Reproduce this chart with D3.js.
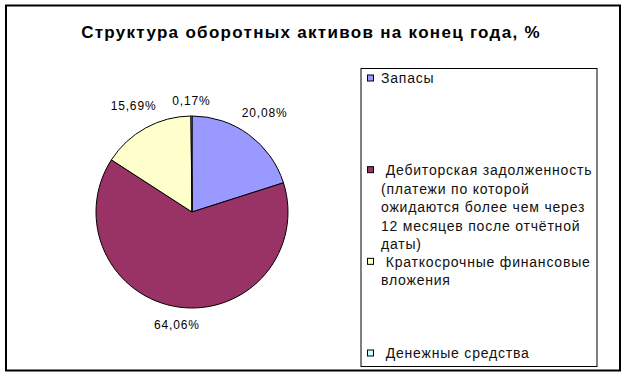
<!DOCTYPE html>
<html>
<head>
<meta charset="utf-8">
<script src="https://cdn.jsdelivr.net/npm/d3@7"></script>
<style>
  body { margin: 0; background: #fff; }
  text { font-family: "Liberation Sans", Arial, sans-serif; }
</style>
</head>
<body>
<div id="container"></div>
<script>
var width = 626,
    height = 377;

// данные диаграммы
var categories = [
    "Запасы",
    "Дебиторская задолженность (платежи по которой ожидаются более чем через 12 месяцев после отчётной даты)",
    "Краткосрочные финансовые вложения",
    "Денежные средства"
];
var values = [20.08, 64.06, 15.69, 0.17];
var labels = ["20,08%", "64,06%", "15,69%", "0,17%"];
var colors = ["#9999FF", "#993366", "#FFFFCC", "#CCFFFF"];
var title = "Структура оборотных активов на конец года, %";

var svg = d3.select("#container").append("svg")
    .attr("width", width)
    .attr("height", height);

svg.append("rect")
    .attr("width", width)
    .attr("height", height)
    .attr("fill", "white");

// рамка
svg.append("rect")
    .attr("x", 6)
    .attr("y", 5.5)
    .attr("width", 614)
    .attr("height", 365)
    .attr("fill", "none")
    .attr("stroke", "black")
    .attr("stroke-width", 2);

svg.append("text")
    .attr("x", 311)
    .attr("y", 38)
    .attr("text-anchor", "middle")
    .attr("font-size", 17)
    .attr("font-weight", "bold")
    .attr("letter-spacing", 1.3)
    .text(title);

// круговая диаграмма
var cx = 192, cy = 212, r = 96;
var pie = d3.pie().sort(null).value(d => d);
var arcs = pie(values);
var arc = d3.arc().innerRadius(0).outerRadius(r);

var g = svg.append("g")
    .attr("transform", "translate(" + cx + "," + cy + ")");

g.selectAll("path")
    .data(arcs)
    .enter().append("path")
    .attr("d", arc)
    .attr("fill", (d, i) => colors[i])
    .attr("stroke", "black")
    .attr("stroke-width", 1);

var lab = g.selectAll(".lab")
    .data(arcs)
    .enter().append("text")
    .attr("class", "lab")
    .attr("font-size", 12)
    .attr("letter-spacing", 0.85)
    .attr("text-anchor", "middle")
    .attr("dominant-baseline", "central")
    .text((d, i) => labels[i]);

lab.each(function (d) {
    let bb = this.getBBox();
    let a = (d.startAngle + d.endAngle) / 2;
    let sx = Math.sin(a), sy = -Math.cos(a);
    let ext = Math.abs(sx) * bb.width / 2 + Math.abs(sy) * bb.height / 2;
    let rr = r + 8 + ext;
    d3.select(this)
        .attr("x", sx * rr)
        .attr("y", sy * rr);
});

// легенда
var lx = 361, ly = 68.5, lw = 236, lh = 298;
svg.append("rect")
    .attr("x", lx)
    .attr("y", ly)
    .attr("width", lw)
    .attr("height", lh)
    .attr("fill", "white")
    .attr("stroke", "black")
    .attr("stroke-width", 1);

var yScale = d3.scalePoint()
    .domain(categories)
    .range([ly + 10, ly + lh - 13]);

var lineH = 18.5;
var maxW = 214;

categories.forEach((c, i) => {
    let y = yScale(c);
    svg.append("rect")
        .attr("x", lx + 6.5)
        .attr("y", y - 3.5)
        .attr("width", 6)
        .attr("height", 6)
        .attr("fill", colors[i])
        .attr("stroke", "black")
        .attr("stroke-width", 1);

    let t = svg.append("text")
        .attr("font-size", 14)
        .attr("letter-spacing", 0.8)
        .attr("fill", "#111");
    let words = c.split(" ");
    let line = [];
    let n = 0;
    let first = i > 0 ? "\u00a0" : "";
    let ts = t.append("tspan").attr("x", lx + 20).attr("y", y).attr("dy", "0.35em").text(first);
    words.forEach(w => {
        line.push(w);
        ts.text((n == 0 ? first : "") + line.join(" "));
        if (ts.node().getComputedTextLength() > maxW && line.length > 1) {
            line.pop();
            ts.text((n == 0 ? first : "") + line.join(" "));
            line = [w];
            n++;
            ts = t.append("tspan").attr("x", lx + 20).attr("y", y + n * lineH).attr("dy", "0.35em").text(w);
        }
    });
});
</script>
</body>
</html>
